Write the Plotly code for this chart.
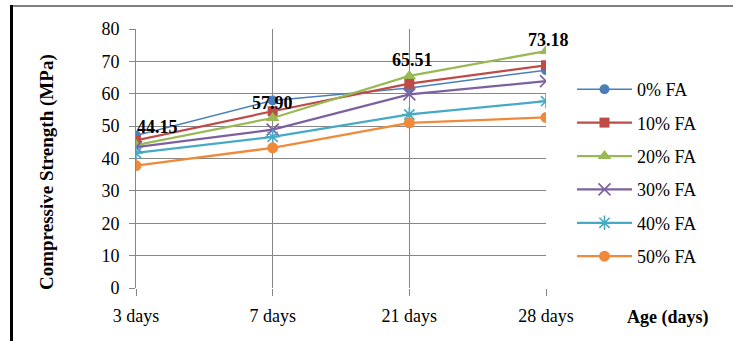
import plotly.graph_objects as go

# Compressive strength (MPa) by curing age for each fly-ash replacement level
ages = ["3 days", "7 days", "21 days", "28 days"]
series_names = ["0% FA", "10% FA", "20% FA", "30% FA", "40% FA", "50% FA"]
fa_0 = [47.1, 57.90, 61.8, 67.3]
fa_10 = [45.6, 54.6, 63.1, 68.8]
fa_20 = [44.15, 52.5, 65.51, 73.18]
fa_30 = [43.5, 48.9, 59.8, 63.9]
fa_40 = [41.7, 46.7, 53.6, 57.7]
fa_50 = [37.8, 43.3, 51.0, 52.7]
y_ticks = [0, 10, 20, 30, 40, 50, 60, 70, 80]

values = [fa_0, fa_10, fa_20, fa_30, fa_40, fa_50]

colors = ["#4A7EBB", "#BE4B48", "#98B954", "#7D60A0", "#46AAC5", "#F08A3A"]
symbols = ["circle", "square", "triangle-up", "x-thin-open", "asterisk-open", "circle"]
marker_sizes = [10, 10, 12, 12, 12, 11]
line_widths = [1.5, 2.25, 2.25, 2.25, 2.25, 2.25]

SERIF = "Liberation Serif"

# plot area in pixels
W, H = 733, 341
L, R, T, B = 136, 546, 29, 288


def px_x(px):
    return (px - L) / (R - L)


def px_y(py):
    return (B - py) / (B - T)


fig = go.Figure()
for i, (name, vals) in enumerate(zip(series_names, values)):
    open_sym = symbols[i].endswith("open")
    fig.add_trace(go.Scatter(
        x=ages, y=vals, name=name, mode="lines+markers",
        legendgroup=name,
        line=dict(color=colors[i], width=line_widths[i]),
        marker=dict(symbol=symbols[i], size=marker_sizes[i], color=colors[i],
                    line=dict(color=colors[i], width=1.6 if open_sym else 0)),
    ))

# value labels: (series index, age index, xshift, yshift)
labels = [(2, 0, 21, 18), (0, 1, 0, -2), (2, 2, 3, 16), (2, 3, 2, 11)]
for s, a, dx, dy in labels:
    v = values[s][a]
    fig.add_annotation(x=ages[a], y=v, text=f"{v:.2f}", showarrow=False,
                       xshift=dx, yshift=dy, xanchor="center", yanchor="middle",
                       font=dict(family=SERIF, size=18, color="black", weight="bold"))

# axis titles
fig.add_annotation(xref="paper", yref="paper", x=px_x(47), y=px_y(172),
                   xanchor="center", yanchor="middle",
                   text="Compressive Strength (MPa)", textangle=-90, showarrow=False,
                   font=dict(family=SERIF, size=19, color="black", weight="bold"))
fig.add_annotation(xref="paper", yref="paper", x=px_x(668), y=px_y(317),
                   xanchor="center", yanchor="middle",
                   text="Age (days)", showarrow=False,
                   font=dict(family=SERIF, size=18, color="black", weight="bold"))

# outer frame: heavy left rule and thin top rule
fig.add_shape(type="line", xref="paper", yref="paper",
              x0=px_x(11.5), x1=px_x(11.5), y0=px_y(5), y1=px_y(345),
              line=dict(color="black", width=3))
fig.add_shape(type="line", xref="paper", yref="paper",
              x0=px_x(10), x1=px_x(740), y0=px_y(6), y1=px_y(6),
              line=dict(color="black", width=1.2))

grid = "#878787"
fig.update_xaxes(range=[0, 3], showgrid=True, gridcolor=grid, gridwidth=1,
                 showline=False, zeroline=False,
                 ticks="outside", ticklen=7, tickcolor=grid, tickwidth=1,
                 ticklabelstandoff=4,
                 tickfont=dict(family=SERIF, size=18, color="black"))
fig.update_yaxes(range=[0, 80], tickvals=y_ticks, showgrid=True, gridcolor=grid,
                 gridwidth=1, showline=True, linecolor=grid, linewidth=1,
                 zeroline=False, ticks="outside", ticklen=6, tickcolor=grid,
                 ticklabelstandoff=6,
                 tickfont=dict(family=SERIF, size=18, color="black"))

fig.update_layout(
    width=W, height=H, autosize=False,
    font=dict(family=SERIF, size=18, color="black"),
    margin=dict(l=L, r=W - R, t=T, b=H - B, pad=0),
    paper_bgcolor="white", plot_bgcolor="white",
    legend=dict(x=px_x(572), y=px_y(71), xanchor="left", yanchor="top",
                font=dict(family=SERIF, size=18, color="black"),
                tracegroupgap=7, itemwidth=55, bgcolor="rgba(0,0,0,0)"),
    showlegend=True,
)

fig.write_html("out.html")
